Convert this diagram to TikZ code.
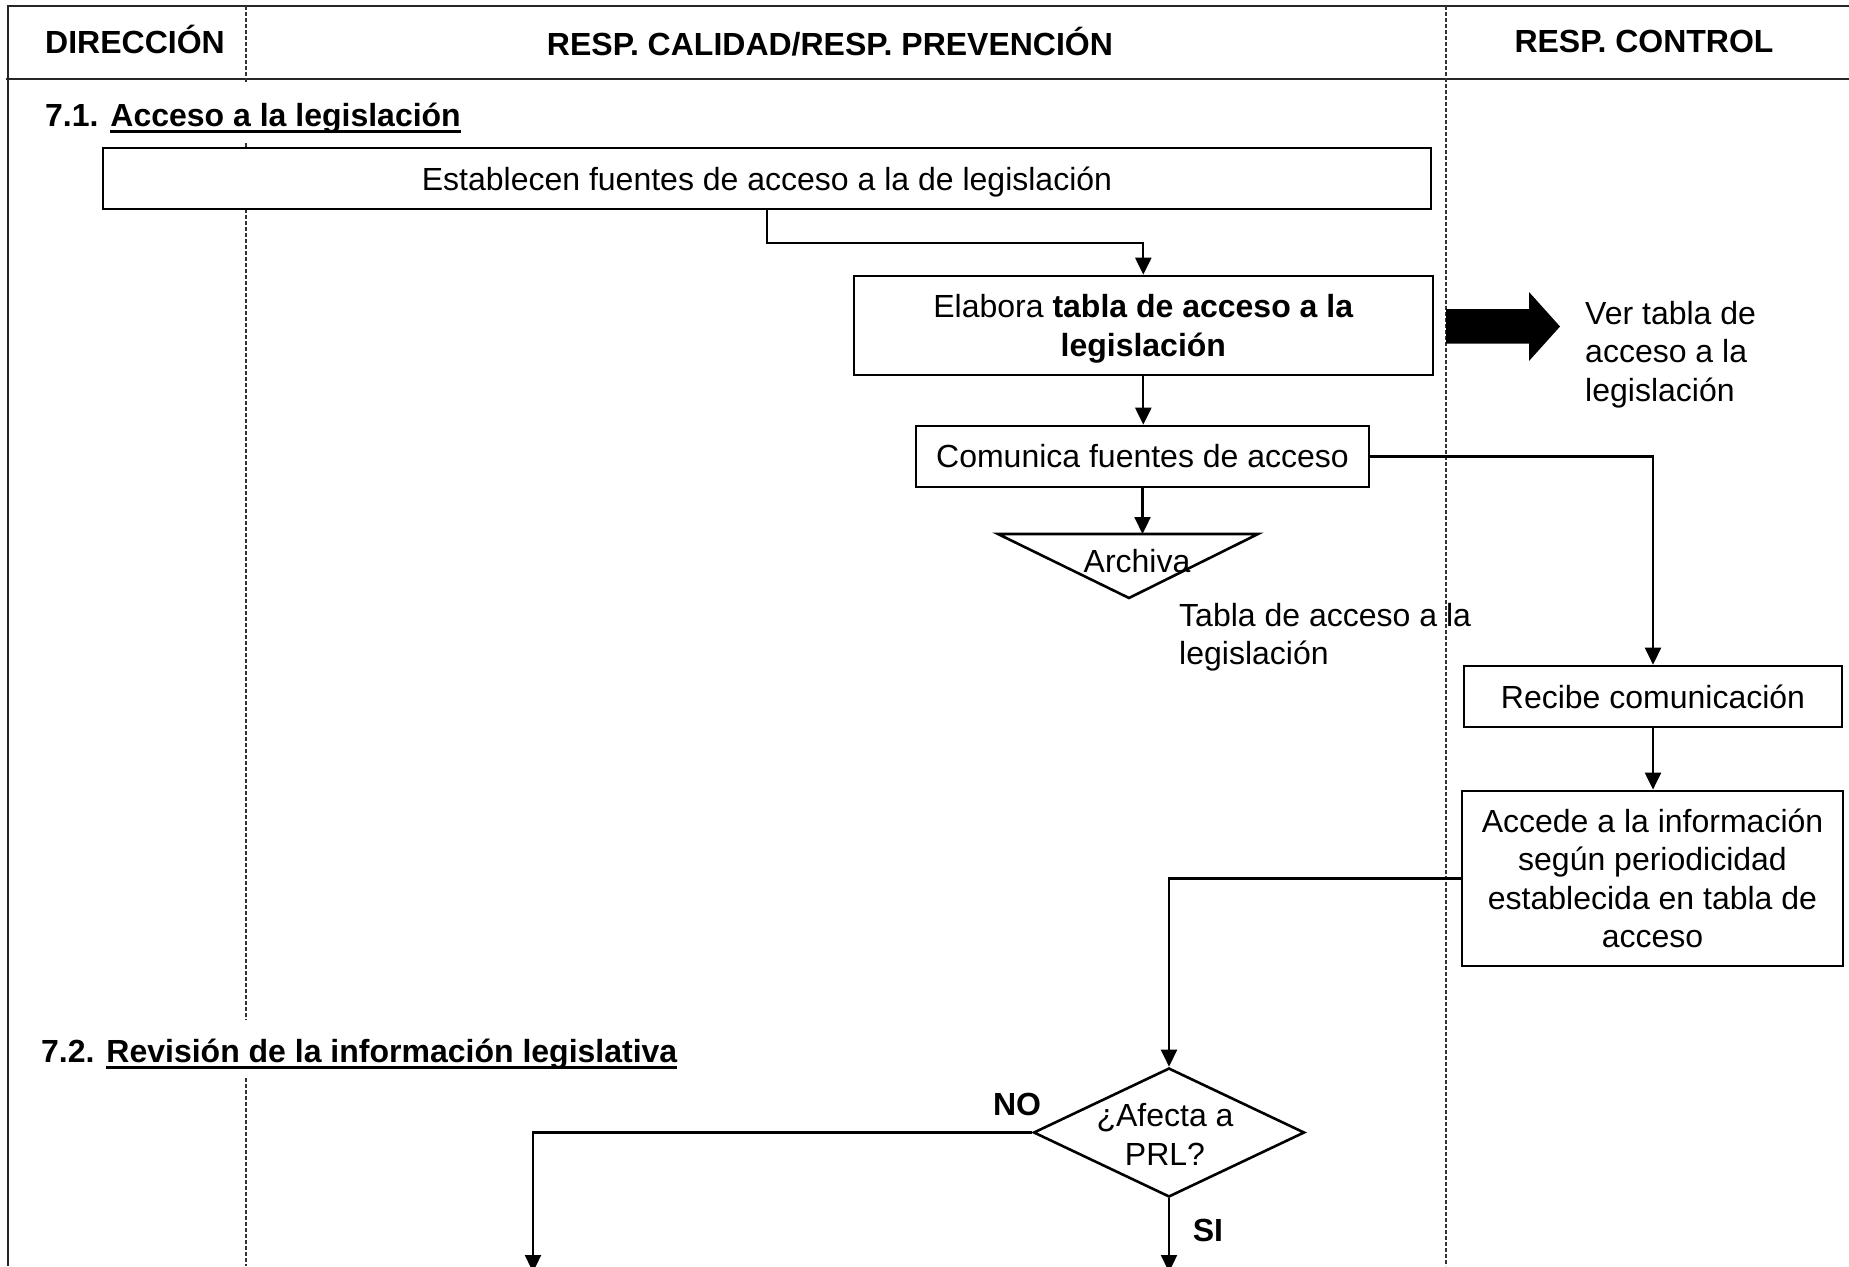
\documentclass[tikz,border=0pt]{standalone}
\usepackage{fontspec}
\setmainfont{Liberation Sans}
\usetikzlibrary{arrows.meta,shapes.geometric}
% underline set close to the baseline, as in the section headings
\newcommand\hdul[1]{\setbox0=\hbox{#1}\rlap{\rule[-7pt]{\wd0}{3pt}}\box0}
\begin{document}
\begin{tikzpicture}[x=1pt,y=-1pt,
  every node/.style={font=\fontsize{32}{38.5}\selectfont},
  box/.style={draw, line width=2.6pt, fill=white, inner sep=0pt, align=center},
  link/.style={line width=2.3pt, -{Triangle[length=17pt,width=16pt]}},
  lane/.style={line width=1.4pt, dash pattern=on 4pt off 2pt, black!80},
  frame/.style={line width=2.4pt, black!85},
  hdr/.style={font=\fontsize{32}{38.5}\selectfont\bfseries, anchor=base, inner sep=0pt},
  note/.style={anchor=north west, inner sep=0pt, align=left}
]
\useasboundingbox (0,0) rectangle (1849,1266);

% table frame
\draw[frame] (1849,6) -- (8,6) -- (8,1266);
\draw[frame] (6,79) -- (1849,79);

% swimlane separators
\draw[lane] (246,6) -- (246,83);
\draw[lane] (246,143) -- (246,1020);
\draw[lane] (246,1078) -- (246,1266);
\draw[lane] (1446,6) -- (1446,1266);

% lane titles
\node[hdr] (hd) at (135,53.5) {DIRECCIÓN};
\node[hdr] (hc) at (830,55) {RESP. CALIDAD/RESP. PREVENCIÓN};
\node[hdr] (hr) at (1644,52.5) {RESP. CONTROL};

% section headings
\node[hdr, anchor=base west] (s1) at (45,126) {7.1. \hdul{Acceso a la legislación}};
\node[hdr, anchor=base west] (s2) at (41,1062) {7.2. \hdul{Revisión de la información legislativa}};

% process steps
\node[box, minimum width=1328pt, minimum height=61pt, text depth=0pt] (b1) at (767,178.5)
  {Establecen fuentes de acceso a la de legislación};
\node[box, minimum width=579pt, minimum height=99pt, text depth=0pt] (b2) at (1143.3,325.5)
  {Elabora \textbf{tabla de acceso a la}\\\textbf{legislación}};
\node[box, minimum width=453pt, minimum height=61pt] (b3) at (1142.5,456.5)
  {Comunica fuentes de acceso};
\node[box, minimum width=378pt, minimum height=61pt] (rc) at (1653,696.5)
  {Recibe comunicación};
\node[box, minimum width=381pt, minimum height=175pt] (ac) at (1652.5,878.4)
  {Accede a la información\\según periodicidad\\establecida en tabla de\\acceso};

% archive symbol
\coordinate (tl) at (998,534);
\coordinate (tr) at (1258,534);
\coordinate (tb) at (1129,598);
\draw[line width=2.6pt, line join=miter] (tl) -- (tr) -- (tb) -- cycle;
\node (arch) at (1137,561) {Archiva};
\node[note] (tab) at (1179,603) {Tabla de acceso a la\\legislación};

% reference to the table
\fill (1446,309) -- (1529,309) -- (1529,292) -- (1560,326.5) -- (1529,361)
      -- (1529,343.5) -- (1446,343.5) -- cycle;
\node[note] (ver) at (1585,301) {Ver tabla de\\acceso a la\\legislación};

% decision
\node[draw, diamond, line width=2.6pt, minimum width=271pt, minimum height=129pt,
      inner sep=0pt, fill=white] (dec) at (1169,1132.5) {};
\node[align=center] (dect) at (1165,1134.5) {¿Afecta a\\PRL?};
\node[hdr] (no) at (1017,1115) {NO};
\node[hdr] (si) at (1208,1241) {SI};

\coordinate (noend) at (533,1272);
\coordinate (siend) at (1169,1272);

% connectors
\draw[link] (b1.south) -- ++(0,33) -| (b2.north);
\draw[link] (b2.south) -- (b2.south |- b3.north);
\draw[link] (b3.south) -- (b3.south |- tl);
\draw[link] (b3.east) -| (rc.north);
\draw[link] (rc.south) -- (rc.south |- ac.north);
\draw[link] (ac.west) -| (dec.north);
\draw[link] (dec.west) -| (noend);
\draw[link] (dec.south) -- (siend);
\end{tikzpicture}
\end{document}
